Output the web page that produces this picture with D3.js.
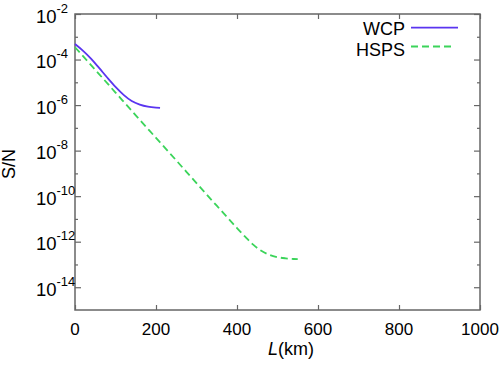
<!DOCTYPE html>
<html>
<head>
<meta charset="utf-8">
<script src="https://cdn.jsdelivr.net/npm/d3@7"></script>
<style>
  html, body { margin: 0; padding: 0; background: #fff; }
  svg { display: block; font-family: "Liberation Sans", Arial, Helvetica, sans-serif; }
</style>
</head>
<body>
<svg id="chart" width="499" height="368"></svg>
<script>
// ---- data ----
const wcpL   = [0, 20, 40, 60, 80, 100, 120, 140, 160, 180, 200, 210];
const wcpSN  = [4.79e-4, 2.40e-4, 1.07e-4, 4.17e-5, 1.58e-5, 6.31e-6, 2.82e-6, 1.51e-6, 1.05e-6, 8.51e-7, 7.76e-7, 7.59e-7];
const hspsL  = [0, 50, 100, 150, 200, 250, 300, 350, 400, 420, 440, 460, 480, 500, 520, 540, 550];
const hspsSN = [3.47e-4, 3.55e-5, 3.55e-6, 3.55e-7, 3.63e-8, 3.72e-9, 3.72e-10, 3.80e-11, 3.98e-12, 1.66e-12, 7.41e-13, 3.98e-13, 2.63e-13, 2.09e-13, 1.86e-13, 1.74e-13, 1.70e-13];
const xTicks = [0, 200, 400, 600, 800, 1000];
const yMajorExp = [-2, -4, -6, -8, -10, -12, -14];
const yMinorExp = [-3, -5, -7, -9, -11, -13];
const seriesNames = ["WCP", "HSPS"];

const svg = d3.select("#chart");
const mLeft = 75, mRight = 480, mTop = 14, mBottom = 310;
const axisColor = "#666";

const x = d3.scaleLinear().domain([0, 1000]).range([mLeft, mRight]);
const y = d3.scaleLog().domain([1e-15, 1e-2]).range([mBottom, mTop]);

// frame
svg.append("rect").attr("x", mLeft).attr("y", mTop)
  .attr("width", mRight - mLeft).attr("height", mBottom - mTop)
  .attr("fill", "none").attr("stroke", axisColor).attr("stroke-width", 1.5);

function styleAxis(g) {
  g.select(".domain").remove();
  g.selectAll(".tick line").attr("stroke", axisColor).attr("stroke-width", 1.2);
}

// x axes (bottom + top mirrored)
svg.append("g").attr("transform", `translate(0,${mBottom})`)
  .call(d3.axisBottom(x).tickValues(xTicks).tickSize(-5).tickFormat("")).call(styleAxis);
svg.append("g").attr("transform", `translate(0,${mTop})`)
  .call(d3.axisTop(x).tickValues(xTicks).tickSize(-5).tickFormat("")).call(styleAxis);

// y axes major + minor, both sides
const majorVals = yMajorExp.map(e => Math.pow(10, e));
const minorVals = yMinorExp.map(e => Math.pow(10, e));
svg.append("g").attr("transform", `translate(${mLeft},0)`)
  .call(d3.axisLeft(y).tickValues(majorVals).tickSize(-6).tickFormat("")).call(styleAxis);
svg.append("g").attr("transform", `translate(${mLeft},0)`)
  .call(d3.axisLeft(y).tickValues(minorVals).tickSize(-3).tickFormat("")).call(styleAxis);
svg.append("g").attr("transform", `translate(${mRight},0)`)
  .call(d3.axisRight(y).tickValues(majorVals).tickSize(-6).tickFormat("")).call(styleAxis);
svg.append("g").attr("transform", `translate(${mRight},0)`)
  .call(d3.axisRight(y).tickValues(minorVals).tickSize(-3).tickFormat("")).call(styleAxis);

// x tick labels
svg.append("g").selectAll("text").data(xTicks).join("text")
  .attr("x", d => x(d)).attr("y", 335)
  .attr("text-anchor", "middle").attr("font-size", 17).attr("fill", "#000")
  .text(d => d);

// y tick labels 10^e
const yl = svg.append("g").selectAll("g").data(yMajorExp).join("g");
yl.append("text")
  .attr("x", 56.5).attr("y", e => y(Math.pow(10, e)) + 8.5)
  .attr("text-anchor", "end").attr("font-size", 18.5).attr("fill", "#000")
  .text("10");
yl.append("text")
  .attr("x", 56.5).attr("y", e => y(Math.pow(10, e)) - 1.5)
  .attr("text-anchor", "start").attr("font-size", 13).attr("fill", "#000")
  .text(e => "-" + Math.abs(e));

// axis titles
const xt = svg.append("text").attr("x", 268).attr("y", 355)
  .attr("font-size", 18).attr("fill", "#000");
xt.append("tspan").attr("font-style", "italic").text("L");
xt.append("tspan").text("(km)");

svg.append("text")
  .attr("transform", "translate(15,164) rotate(-90)")
  .attr("text-anchor", "middle").attr("font-size", 18).attr("fill", "#000")
  .text("S/N");

// lines
const line = d3.line().x(d => x(d[0])).y(d => y(d[1])).curve(d3.curveMonotoneX);
const wcpColor = "#5a35f0", hspsColor = "#3bd45a";

svg.append("path").datum(d3.zip(hspsL, hspsSN))
  .attr("d", line).attr("fill", "none").attr("stroke", hspsColor)
  .attr("stroke-width", 1.8).attr("stroke-dasharray", "7,4");
svg.append("path").datum(d3.zip(wcpL, wcpSN))
  .attr("d", line).attr("fill", "none").attr("stroke", wcpColor)
  .attr("stroke-width", 1.8);

// legend
const legend = [
  {name: seriesNames[0], color: wcpColor, dash: null, ty: 35, ly: 27.7, x2: 458},
  {name: seriesNames[1], color: hspsColor, dash: "7,4", ty: 55.5, ly: 46.5, x2: 455}
];
const lg = svg.append("g").selectAll("g").data(legend).join("g");
lg.append("text").attr("x", 405).attr("y", d => d.ty)
  .attr("text-anchor", "end").attr("font-size", 18).attr("fill", "#000")
  .text(d => d.name);
lg.append("line").attr("x1", 411).attr("x2", d => d.x2)
  .attr("y1", d => d.ly).attr("y2", d => d.ly)
  .attr("stroke", d => d.color).attr("stroke-width", 1.8)
  .attr("stroke-dasharray", d => d.dash);
</script>
</body>
</html>
